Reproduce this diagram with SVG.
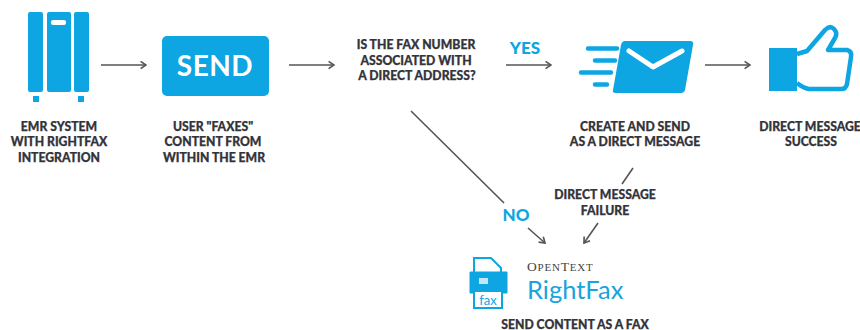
<svg xmlns="http://www.w3.org/2000/svg" width="860" height="330" viewBox="0 0 860 330">
<style>
.l{font-family:Lato,"Liberation Sans",sans-serif;font-weight:900;font-size:12.200px;fill:#33333a;stroke:#33333a;stroke-width:.25;text-anchor:middle}
.c{stroke:#555;stroke-width:1.6;fill:none}
.b{fill:#0ea5e3}
.h{font-family:Lato,"Liberation Sans",sans-serif;font-weight:900;font-size:17px;fill:#0ea5e3;text-anchor:middle}
</style>
<defs>
<marker id="a" viewBox="0 0 10 10" refX="9" refY="5" markerWidth="9" markerHeight="9" markerUnits="userSpaceOnUse" orient="auto"><path d="M3 1L9 5L3 9" fill="none" stroke="#555" stroke-width="1.800"/></marker>
</defs>
<rect width="860" height="330" fill="#fff"/>
<g id="connectors">
<path class="c" marker-end="url(#a)" d="M101 65H146"/>
<path class="c" marker-end="url(#a)" d="M289 65H334"/>
<path class="c" marker-end="url(#a)" d="M506 65H551"/>
<path class="c" marker-end="url(#a)" d="M705 65H750"/>
<path class="c" d="M411 111L504 203"/>
<path class="c" marker-end="url(#a)" d="M528 228L545 243"/>
<path class="c" d="M633 168L622 184"/>
<path class="c" marker-end="url(#a)" d="M598 223L584 243"/>
</g>
<g id="emr">
<rect class="b" x="28" y="12" width="15" height="80" rx="2"/>
<rect class="b" x="47" y="12" width="24" height="80" rx="2"/>
<rect class="b" x="74" y="12" width="15" height="80" rx="2"/>
<rect x="51" y="20" width="15" height="5" rx="2" fill="#fff"/>
<rect class="b" x="33" y="96" width="6" height="6"/>
<rect class="b" x="78" y="96" width="6" height="6"/>
<text class="l" x="59" y="131">EMR SYSTEM</text>
<text class="l" x="59" y="146">WITH RIGHTFAX</text>
<text class="l" x="59" y="162">INTEGRATION</text>
</g>
<g id="send">
<rect class="b" x="162" y="36" width="107" height="60" rx="5"/>
<text x="215" y="76" text-anchor="middle" font-family="Lato,'Liberation Sans',sans-serif" font-weight="700" font-size="28" letter-spacing=".5" fill="#fff">SEND</text>
<text class="l" x="213" y="131">USER "FAXES"</text>
<text class="l" x="213" y="146">CONTENT FROM</text>
<text class="l" x="214" y="162">WITHIN THE EMR</text>
</g>
<g id="question">
<text class="l" x="416" y="49">IS THE FAX NUMBER</text>
<text class="l" x="416" y="65">ASSOCIATED WITH</text>
<text class="l" x="417" y="80">A DIRECT ADDRESS?</text>
</g>
<text class="h" x="525" y="54">YES</text>
<g id="direct">
<path class="b" d="M625 41H690Q694 41 693 45L685 90Q684 93 681 93H616Q612 93 613 90L621 45Q622 41 625 41Z"/>
<path d="M629 51L653 67L682 51" fill="none" stroke="#fff" stroke-width="5" stroke-linecap="round" stroke-linejoin="round"/>
<path d="M588 48.500H617M595 60.500H615M581 72.500H611M595 84.500H607" fill="none" stroke="#0ea5e3" stroke-width="4.500" stroke-linecap="round"/>
<text class="l" x="635" y="131">CREATE AND SEND</text>
<text class="l" x="635" y="146">AS A DIRECT MESSAGE</text>
</g>
<g id="success">
<rect class="b" x="769" y="48" width="28" height="43"/>
<path d="M797 54L807 51L825 30Q830 25 834 29Q838 33 835 38L828 50H847Q852 51 851 57L847 84Q846 89 841 89H809Q803 88 797 83" fill="none" stroke="#0ea5e3" stroke-width="4.500" stroke-linejoin="round"/>
<text class="l" x="810" y="131">DIRECT MESSAGE</text>
<text class="l" x="811" y="146">SUCCESS</text>
</g>
<text class="h" x="516" y="221">NO</text>
<text class="l" x="605" y="199">DIRECT MESSAGE</text>
<text class="l" x="605" y="215">FAILURE</text>
<g id="rightfax">
<path d="M474 272V258H491L501 268V272" fill="none" stroke="#0ea5e3" stroke-width="2"/>
<path class="b" d="M470 272H507V293H503V291H474V293H470Z" stroke="#0ea5e3" stroke-width="1"/>
<rect x="479" y="278" width="9" height="6" fill="#fff" opacity=".75"/>
<rect x="474" y="291" width="28" height="17" fill="#fff" stroke="#0ea5e3" stroke-width="2"/>
<text x="488" y="305" text-anchor="middle" font-family="Lato,'Liberation Sans',sans-serif" font-size="13" fill="#0ea5e3">fax</text>
<text x="527" y="270.500" font-family="'Liberation Serif',serif" font-size="13.500" letter-spacing=".8" fill="#444">O<tspan font-size="11">PEN</tspan>T<tspan font-size="11">EXT</tspan></text>
<text x="527" y="299" font-family="Lato,'Liberation Sans',sans-serif" font-size="25.500" fill="#1ba3dd">RightFax</text>
<text class="l" x="575" y="328.500">SEND CONTENT AS A FAX</text>
</g>
</svg>
